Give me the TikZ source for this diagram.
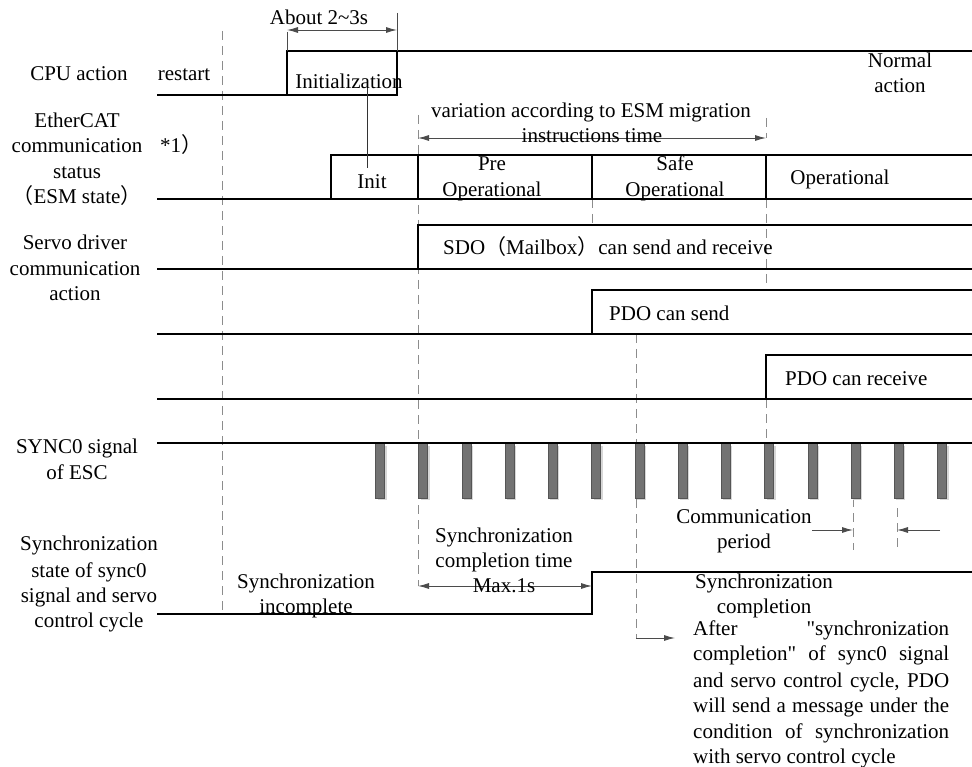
\documentclass[tikz,border=0pt]{standalone}
\usepackage{fontspec}
\setmainfont{Liberation Serif}[Ligatures=TeXOff]
\newfontfamily\cjk{Noto Sans CJK SC}
\usetikzlibrary{arrows.meta}
\definecolor{arr}{RGB}{75,75,75}
\definecolor{dsh}{RGB}{140,140,140}
\definecolor{pulsefill}{RGB}{115,115,115}
\definecolor{pulsedraw}{RGB}{85,85,85}
\definecolor{pulseshadow}{RGB}{215,215,215}
\begin{document}
\begin{tikzpicture}[x=1pt,y=-1pt,
  sig/.style={line width=2pt, black},
  thinline/.style={line width=0.9pt, arr},
  dim/.style={line width=0.9pt, arr, {Latex[length=11pt,width=6pt]}-{Latex[length=11pt,width=6pt]}},
  ptr/.style={line width=0.9pt, arr, -{Latex[length=11pt,width=6pt]}},
  guide/.style={line width=0.9pt, dsh, dash pattern=on 9pt off 6pt},
  lbl/.style={font=\fontsize{21}{25.5}\selectfont, inner sep=0pt, anchor=base},
  lblw/.style={lbl, anchor=base west},
  pulsebox/.style={fill=pulsefill, draw=pulsedraw, line width=0.6pt},
  pulseshade/.style={fill=pulseshadow}]
\useasboundingbox (0,0) rectangle (972,767);

% ---------- guides ----------
\draw[guide] (222,31) -- (222,613);
\draw[guide] (418,115) -- (418,586);
\draw[guide] (592,199) -- (592,225);
\draw[guide] (766,118) -- (766,138);
\draw[guide] (766,199) -- (766,290);
\draw[guide] (766,399) -- (766,443);
\draw[guide] (636,334) -- (636,638);
\draw[guide] (853,498) -- (853,550);
\draw[guide] (897,508) -- (897,547);

% ---------- pulses ----------
\foreach \k in {0,...,13}{
  \pgfmathsetmacro\px{380+43.23*\k}
  \fill[pulseshade] (\px-2.5,446) rectangle (\px+6.5,500);
  \draw[pulsebox] (\px-4.5,443) rectangle (\px+4.5,498);
}

% ---------- signals ----------
% CPU
\draw[sig] (157,95) -- (397,95) -- (397,51);
\draw[sig] (287,95) -- (287,51) -- (972,51);
% ESM
\draw[sig] (157,199) -- (972,199);
\draw[sig] (331,199) -- (331,155) -- (972,155);
\draw[sig] (418,155) -- (418,199);
\draw[sig] (592,155) -- (592,199);
\draw[sig] (766,155) -- (766,199);
% SDO
\draw[sig] (157,269) -- (972,269);
\draw[sig] (418,269) -- (418,225) -- (972,225);
% PDO send
\draw[sig] (157,334) -- (972,334);
\draw[sig] (592,334) -- (592,290) -- (972,290);
% PDO receive
\draw[sig] (157,399) -- (972,399);
\draw[sig] (766,399) -- (766,355) -- (972,355);
% SYNC0
\draw[sig] (157,443) -- (972,443);
% sync state
\draw[sig] (157,614) -- (592,614) -- (592,572) -- (972,572);

% ---------- dimension arrows ----------
\draw[thinline] (287,32) -- (287,51);
\draw[thinline] (397,13) -- (397,51);
\draw[dim] (287,30) -- (397,30);
\draw[dim] (418,138) -- (766,138);
\draw[dim] (418,586) -- (592,586);
\draw[ptr] (812,530) -- (853,530);
\draw[ptr] (940,530) -- (897,530);
\draw[ptr] (636,638) -- (675,638);
\draw[thinline, black!80] (367,88) -- (367,168);

% ---------- labels ----------
\node[lbl] (about) at (319,25) {About 2\textasciitilde3s};
\node[lbl] (cpu) at (79,81) {CPU action};
\node[lbl] (restart) at (184,81) {restart};
\node[lbl] (initz) at (349,89) {Initialization};
\node[lbl] (norm1) at (900,68) {Normal};
\node[lbl] (norm2) at (900,93) {action};

\node[lbl] (eth1) at (77,128) {EtherCAT};
\node[lbl] (eth2) at (77,153) {communication};
\node[lbl] (eth3) at (77,179) {status};
\node[lbl] (eth4) at (77,204) {{\cjk （}ESM state{\cjk ）}};
\node[lblw] (note1) at (160,153) {*1{\cjk ）}};

\node[lbl] (var1) at (591,118) {variation according to ESM migration};
\node[lbl] (var2) at (592,143) {instructions time};

\node[lbl] (init) at (372,189) {Init};
\node[lbl] (pre1) at (492,171) {Pre};
\node[lbl] (pre2) at (492,197) {Operational};
\node[lbl] (safe1) at (675,171) {Safe};
\node[lbl] (safe2) at (675,197) {Operational};
\node[lbl] (op) at (840,185) {Operational};

\node[lbl] (srv1) at (75,250) {Servo driver};
\node[lbl] (srv2) at (75,276) {communication};
\node[lbl] (srv3) at (75,301) {action};
\node[lblw] (sdo) at (443,255) {SDO{\cjk （}Mailbox{\cjk ）}can send and receive};
\node[lblw] (pdos) at (609,320) {PDO can send};
\node[lblw] (pdor) at (785,385) {PDO can receive};

\node[lbl] (sy1) at (77,453) {SYNC0 signal};
\node[lbl] (sy2) at (77,479) {of ESC};

\node[lbl] (ss1) at (89,550) {Synchronization};
\node[lbl] (ss2) at (89,577) {state of sync0};
\node[lbl] (ss3) at (89,602) {signal and servo};
\node[lbl] (ss4) at (89,627) {control cycle};

\node[lbl] (inc1) at (306,588) {Synchronization};
\node[lbl] (inc2) at (306,613) {incomplete};

\node[lbl] (ct1) at (504,542) {Synchronization};
\node[lbl] (ct2) at (504,567) {completion time};
\node[lbl] (ct3) at (504,592) {Max.1s};

\node[lbl] (cp1) at (744,523) {Communication};
\node[lbl] (cp2) at (744,548) {period};

\node[lbl] (sc1) at (764,588) {Synchronization};
\node[lbl] (sc2) at (764,613) {completion};

\node[lblw] (p1) at (693,635) {\makebox[256pt][s]{After "synchronization}};
\node[lblw] (p2) at (693,660) {\makebox[256pt][s]{completion" of sync0 signal}};
\node[lblw] (p3) at (693,687) {\makebox[256pt][s]{and servo control cycle, PDO}};
\node[lblw] (p4) at (693,712) {\makebox[256pt][s]{will send a message under the}};
\node[lblw] (p5) at (693,738) {\makebox[256pt][s]{condition of synchronization}};
\node[lblw] (p6) at (693,763) {with servo control cycle};
\end{tikzpicture}
\end{document}
